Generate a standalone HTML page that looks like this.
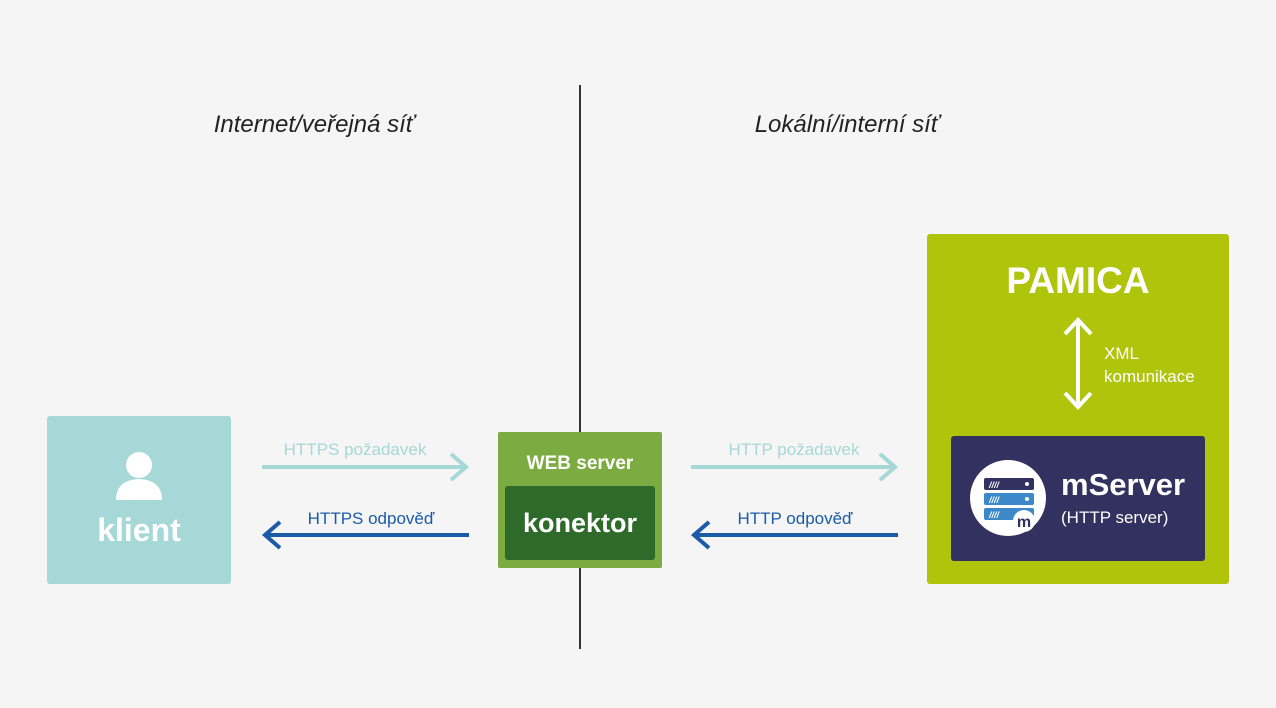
<!DOCTYPE html>
<html><head><meta charset="utf-8"><style>
body{margin:0;background:#f5f5f5}
svg{display:block}
text{font-family:"Liberation Sans",sans-serif}
</style></head><body>
<svg width="1276" height="708" viewBox="0 0 1276 708">
<rect width="1276" height="708" fill="#f5f5f5"/>
<line x1="580" y1="85" x2="580" y2="649" stroke="#333" stroke-width="2"/>
<text x="314" y="132" font-size="24" font-style="italic" fill="#222" text-anchor="middle">Internet/veřejná síť</text>
<text x="847" y="132" font-size="24" font-style="italic" fill="#222" text-anchor="middle">Lokální/interní síť</text>
<!-- klient -->
<rect x="47" y="416" width="184" height="168" rx="3" fill="#a5d8d6"/>
<circle cx="139" cy="465" r="13" fill="#fff"/>
<path d="M116 500 Q116 480 139 479 Q162 480 162 500 Z" fill="#fff"/>
<text x="139" y="541" font-size="32" font-weight="bold" fill="#fff" text-anchor="middle">klient</text>
<!-- web server -->
<rect x="498" y="432" width="164" height="136" rx="2" fill="#7cab41"/>
<text x="580" y="469" font-size="19" font-weight="bold" fill="#fff" text-anchor="middle">WEB server</text>
<rect x="505" y="486" width="150" height="74" rx="3" fill="#2e6b2a"/>
<text x="580" y="532" font-size="27" font-weight="bold" fill="#fff" text-anchor="middle">konektor</text>
<!-- arrows left -->
<text x="355" y="455" font-size="17" fill="#a5d8d6" text-anchor="middle">HTTPS požadavek</text>
<line x1="262" y1="467" x2="466" y2="467" stroke="#a5d8d6" stroke-width="4"/>
<polyline points="451,454 466,467 451,480" fill="none" stroke="#a5d8d6" stroke-width="4"/>
<text x="371" y="524" font-size="17" fill="#1a5aa6" text-anchor="middle">HTTPS odpověď</text>
<line x1="265" y1="535" x2="469" y2="535" stroke="#1a5aa6" stroke-width="4"/>
<polyline points="280,522 265,535 280,548" fill="none" stroke="#1a5aa6" stroke-width="4"/>
<!-- arrows right -->
<text x="794" y="455" font-size="17" fill="#a5d8d6" text-anchor="middle">HTTP požadavek</text>
<line x1="691" y1="467" x2="895" y2="467" stroke="#a5d8d6" stroke-width="4"/>
<polyline points="880,454 895,467 880,480" fill="none" stroke="#a5d8d6" stroke-width="4"/>
<text x="795" y="524" font-size="17" fill="#1a5aa6" text-anchor="middle">HTTP odpověď</text>
<line x1="694" y1="535" x2="898" y2="535" stroke="#1a5aa6" stroke-width="4"/>
<polyline points="709,522 694,535 709,548" fill="none" stroke="#1a5aa6" stroke-width="4"/>
<!-- PAMICA -->
<rect x="927" y="234" width="302" height="350" rx="3" fill="#afc40b"/>
<text x="1078" y="293" font-size="37" font-weight="bold" fill="#fff" text-anchor="middle">PAMICA</text>
<line x1="1078" y1="321" x2="1078" y2="406" stroke="#fff" stroke-width="4"/>
<polyline points="1065,334 1078,320 1091,334" fill="none" stroke="#fff" stroke-width="4"/>
<polyline points="1065,393 1078,407 1091,393" fill="none" stroke="#fff" stroke-width="4"/>
<text x="1104" y="359" font-size="17" fill="#fff">XML</text>
<text x="1104" y="382" font-size="17" fill="#fff">komunikace</text>
<rect x="951" y="436" width="254" height="125" rx="3" fill="#32315f"/>
<circle cx="1008" cy="498" r="38" fill="#fff"/>
<rect x="984" y="478" width="50" height="12" rx="2" fill="#32315f"/>
<rect x="984" y="493" width="50" height="12" rx="2" fill="#3c88c9"/>
<rect x="984" y="508" width="50" height="12" rx="2" fill="#3c88c9"/>
<circle cx="1027" cy="484" r="2" fill="#fff"/>
<circle cx="1027" cy="499" r="2" fill="#fff"/>
<text x="989" y="488" font-size="9" font-weight="bold" font-style="italic" fill="#fff">////</text>
<text x="989" y="503" font-size="9" font-weight="bold" font-style="italic" fill="#fff">////</text>
<text x="989" y="518" font-size="9" font-weight="bold" font-style="italic" fill="#fff">////</text>
<circle cx="1024" cy="521" r="11" fill="#fff"/>
<text x="1024" y="527" font-size="16" font-weight="bold" fill="#32315f" text-anchor="middle">m</text>
<text x="1061" y="495" font-size="31" font-weight="bold" fill="#fff">mServer</text>
<text x="1061" y="523" font-size="17" fill="#fff">(HTTP server)</text>
</svg>
</body></html>
